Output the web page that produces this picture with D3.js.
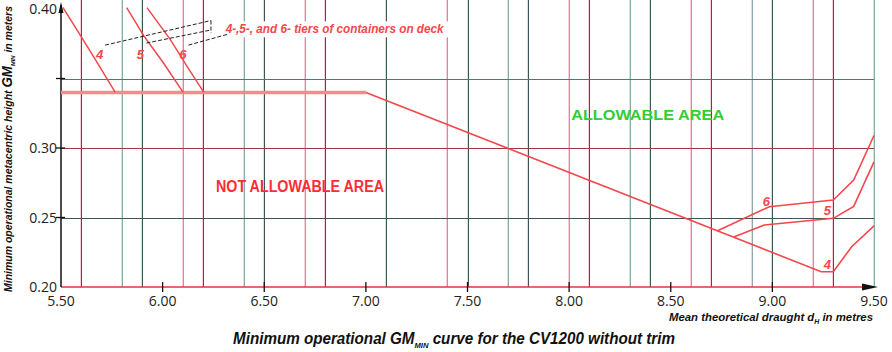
<!DOCTYPE html>
<html>
<head>
<meta charset="utf-8">
<script src="https://cdnjs.cloudflare.com/ajax/libs/d3/7.8.5/d3.min.js"></script>
<style>
    body { margin: 0; background: #fff; }
    svg { display: block; }
</style>
</head>
<body>
<div id="chart"></div>
<script>
// ticks
const xTicks = [5.5, 6.0, 6.5, 7.0, 7.5, 8.0, 8.5, 9.0, 9.5];
const yTicks = [0.20, 0.25, 0.30, 0.35, 0.40];
const yLabelled = [0.20, 0.25, 0.30, 0.40];

// grid lines (draught, m)
const vGridDark = [5.6, 5.9, 6.2, 6.5, 6.8, 7.1, 7.5, 7.8, 8.1, 8.4, 8.7, 9.0, 9.3];
const vGridLight = [5.8, 6.1, 6.4, 6.7, 7.4, 7.7, 8.0, 8.3, 8.6, 8.9, 9.2, 9.5];
const hGrid = [0.25, 0.30, 0.35];
const hGridColors = ["#3c5656", "#9a3c40", "#557474"];

// GM min curve: plateau + low draught part (4 tiers)
const plateau = [[5.5, 0.34], [7.0, 0.34]];
const tier4Low = [[7.0, 0.34], [9.24, 0.211], [9.30, 0.211], [9.39, 0.229], [9.50, 0.244]];
const tier5Low = [[8.81, 0.236], [8.96, 0.2446], [9.30, 0.2494], [9.40, 0.258], [9.50, 0.290]];
const tier6Low = [[8.73, 0.2405], [8.985, 0.2578], [9.30, 0.2626], [9.40, 0.277], [9.50, 0.309]];

// steep branches at small draught
const tier4High = [[5.51, 0.401], [5.60, 0.380], [5.676, 0.362], [5.767, 0.34]];
const tier5High = [[5.823, 0.401], [5.906, 0.381], [6.005, 0.361], [6.101, 0.34]];
const tier6High = [[5.923, 0.401], [6.038, 0.378], [6.121, 0.3585], [6.203, 0.34]];

// tier labels [x, y, text]
const tierLabels = [
    [5.69, 0.364, "4"], [5.89, 0.364, "5"], [6.10, 0.364, "6"],
    [8.97, 0.258, "6"], [9.27, 0.252, "5"], [9.27, 0.213, "4"]
];

// dashed leaders to the legend note
const leaders = [
    [[5.717, 0.374], [6.238, 0.3917]],
    [[5.92, 0.3755], [6.238, 0.3849]],
    [[6.127, 0.374], [6.325, 0.382]],
    [[6.238, 0.3917], [6.238, 0.3827]]
];

const width = 892, height = 352;
const margin = { top: 9, right: 18, bottom: 65, left: 61 };

const svg = d3.select("#chart").append("svg")
    .attr("width", width)
    .attr("height", height);

const x = d3.scaleLinear().domain([5.5, 9.5]).range([margin.left, width - margin.right]);
const y = d3.scaleLinear().domain([0.20, 0.40]).range([height - margin.bottom, margin.top]);

const fontNum = "'Open Sans', 'Noto Sans', sans-serif";
const fontLab = "'Liberation Sans', Arial, sans-serif";

// vertical grid: each line has a faint pink ghost beside it
const grid = svg.append("g");
function vLines(values, color) {
    grid.selectAll(null)
        .data(values)
        .enter().append("line")
        .attr("x1", d => Math.round(x(d)) - 0.5)
        .attr("x2", d => Math.round(x(d)) - 0.5)
        .attr("y1", 0)
        .attr("y2", y(0.20))
        .attr("stroke", "#fad2d2")
        .attr("stroke-width", 1);
    grid.selectAll(null)
        .data(values)
        .enter().append("line")
        .attr("x1", d => Math.round(x(d)) + 0.5)
        .attr("x2", d => Math.round(x(d)) + 0.5)
        .attr("y1", 0)
        .attr("y2", y(0.20))
        .attr("stroke", color)
        .attr("stroke-width", 1);
}
vLines(vGridLight, "#8eaaae");
vLines(vGridDark, "#3c5656");

grid.selectAll(null)
    .data(hGrid)
    .enter().append("line")
    .attr("x1", x(5.5))
    .attr("x2", x(9.5))
    .attr("y1", d => Math.round(y(d)) + 0.5)
    .attr("y2", d => Math.round(y(d)) + 0.5)
    .attr("stroke", (d, i) => hGridColors[i]);

// note text with white backing
const noteX = x(6.31), noteY = y(0.3825);
svg.append("rect")
    .attr("x", noteX - 3)
    .attr("y", noteY - 12)
    .attr("width", 226)
    .attr("height", 16)
    .attr("fill", "#fff");
svg.append("text")
    .attr("x", noteX)
    .attr("y", noteY)
    .attr("font-family", fontLab)
    .attr("font-style", "italic")
    .attr("font-weight", "bold")
    .attr("font-size", 12.5)
    .attr("fill", "#f4474c")
    .attr("textLength", 218)
    .attr("lengthAdjust", "spacingAndGlyphs")
    .text("4-,5-, and 6- tiers of containers on deck");

// axes
const axisG = svg.append("g");
axisG.append("line")
    .attr("x1", x(5.5)).attr("x2", x(9.5) - 4)
    .attr("y1", y(0.20)).attr("y2", y(0.20))
    .attr("stroke", "#e8323a").attr("stroke-width", 1.5);
axisG.append("path")
    .attr("d", `M${x(9.5) - 12},${y(0.20) - 3.5} L${x(9.5) + 4},${y(0.20)} L${x(9.5) - 12},${y(0.20) + 3.5} Z`)
    .attr("fill", "#111");
axisG.append("line")
    .attr("x1", x(5.5)).attr("x2", x(5.5))
    .attr("y1", y(0.20)).attr("y2", y(0.40) - 4)
    .attr("stroke", "#111").attr("stroke-width", 1.5);
axisG.append("path")
    .attr("d", `M${x(5.5) - 2.5},${y(0.40) + 4} L${x(5.5)},${y(0.40) - 7} L${x(5.5) + 2.5},${y(0.40) + 4} Z`)
    .attr("fill", "#111");

axisG.selectAll(null)
    .data(xTicks.slice(1, -1))
    .enter().append("line")
    .attr("x1", d => x(d)).attr("x2", d => x(d))
    .attr("y1", y(0.20) - 5).attr("y2", y(0.20) + 5)
    .attr("stroke", "#111").attr("stroke-width", 1.3);
axisG.selectAll(null)
    .data(yTicks.slice(1, -1))
    .enter().append("line")
    .attr("x1", x(5.5) - 5).attr("x2", x(5.5) + 4)
    .attr("y1", d => y(d)).attr("y2", d => y(d))
    .attr("stroke", "#111").attr("stroke-width", 1.3);

axisG.selectAll(null)
    .data(xTicks)
    .enter().append("text")
    .attr("x", d => x(d))
    .attr("y", y(0.20) + 19)
    .attr("text-anchor", "middle")
    .attr("font-family", fontNum)
    .attr("font-size", 14)
    .attr("fill", "#222")
    .text(d => d.toFixed(2));
axisG.selectAll(null)
    .data(yLabelled)
    .enter().append("text")
    .attr("x", x(5.5) - 4)
    .attr("y", d => y(d) + 5)
    .attr("text-anchor", "end")
    .attr("font-family", fontNum)
    .attr("font-size", 14)
    .attr("fill", "#222")
    .text(d => d.toFixed(2));

// curves
const line = d3.line().x(d => x(d[0])).y(d => y(d[1]));
const curves = svg.append("g").attr("fill", "none");
curves.append("path").attr("d", line(plateau))
    .attr("stroke", "#f98a8c").attr("stroke-width", 3.5);
[tier4Low, tier5Low, tier6Low].forEach(c => {
    curves.append("path").attr("d", line(c))
        .attr("stroke", "#f4474c").attr("stroke-width", 1.6);
});
[tier4High, tier5High, tier6High].forEach(c => {
    curves.append("path").attr("d", line(c))
        .attr("stroke", "#f4474c").attr("stroke-width", 1.5);
});

// leaders
svg.append("g").selectAll("path")
    .data(leaders)
    .enter().append("path")
    .attr("d", d => line(d))
    .attr("stroke", "#222")
    .attr("stroke-width", 1)
    .attr("stroke-dasharray", "4,2")
    .attr("fill", "none");

svg.append("g").selectAll("text")
    .data(tierLabels)
    .enter().append("text")
    .attr("x", d => x(d[0]))
    .attr("y", d => y(d[1]))
    .attr("text-anchor", "middle")
    .attr("font-family", fontLab)
    .attr("font-style", "italic")
    .attr("font-weight", "bold")
    .attr("font-size", 13)
    .attr("fill", "#f4474c")
    .text(d => d[2]);

// area captions
svg.append("text")
    .attr("x", x(5.5) + 155)
    .attr("y", y(0.2685))
    .attr("font-family", fontLab)
    .attr("font-weight", "bold")
    .attr("font-size", 16)
    .attr("fill", "#ff2b36")
    .attr("textLength", 168)
    .attr("lengthAdjust", "spacingAndGlyphs")
    .text("NOT ALLOWABLE AREA");
svg.append("text")
    .attr("x", x(8.01))
    .attr("y", y(0.3205))
    .attr("font-family", fontLab)
    .attr("font-weight", "bold")
    .attr("font-size", 15)
    .attr("fill", "#2ed12e")
    .attr("textLength", 153)
    .attr("lengthAdjust", "spacingAndGlyphs")
    .text("ALLOWABLE AREA");

// axis titles
const xTitle = svg.append("text")
    .attr("x", x(9.5) - 1)
    .attr("y", 321)
    .attr("text-anchor", "end")
    .attr("font-family", fontLab)
    .attr("font-style", "italic")
    .attr("font-weight", "bold")
    .attr("font-size", 11.5)
    .attr("fill", "#111")
    .attr("textLength", 204)
    .attr("lengthAdjust", "spacingAndGlyphs");
xTitle.append("tspan").text("Mean theoretical draught d");
xTitle.append("tspan").attr("font-size", 7).attr("dy", 3).text("H");
xTitle.append("tspan").attr("dy", -3).text(" in metres");

const yTitle = svg.append("text")
    .attr("transform", `translate(12, ${(y(0.20) + 3) / 2 + 4}) rotate(-90)`)
    .attr("text-anchor", "middle")
    .attr("font-family", fontLab)
    .attr("font-style", "italic")
    .attr("font-weight", "bold")
    .attr("font-size", 11)
    .attr("fill", "#111")
    .attr("textLength", 286)
    .attr("lengthAdjust", "spacingAndGlyphs");
yTitle.append("tspan").text("Minimum operational metacentric height ");
yTitle.append("tspan").attr("font-size", 14).text("GM");
yTitle.append("tspan").attr("font-size", 6).attr("dy", 3).text("MIN");
yTitle.append("tspan").attr("dy", -3).text(" in meters");

const title = svg.append("text")
    .attr("x", 233)
    .attr("y", 344)
    .attr("font-family", fontLab)
    .attr("font-style", "italic")
    .attr("font-weight", "bold")
    .attr("font-size", 16)
    .attr("fill", "#111")
    .attr("textLength", 442)
    .attr("lengthAdjust", "spacingAndGlyphs");
title.append("tspan").text("Minimum operational GM");
title.append("tspan").attr("font-size", 8).attr("dy", 4).text("MIN");
title.append("tspan").attr("dy", -4).text(" curve for the CV1200 without trim");
</script>
</body>
</html>
